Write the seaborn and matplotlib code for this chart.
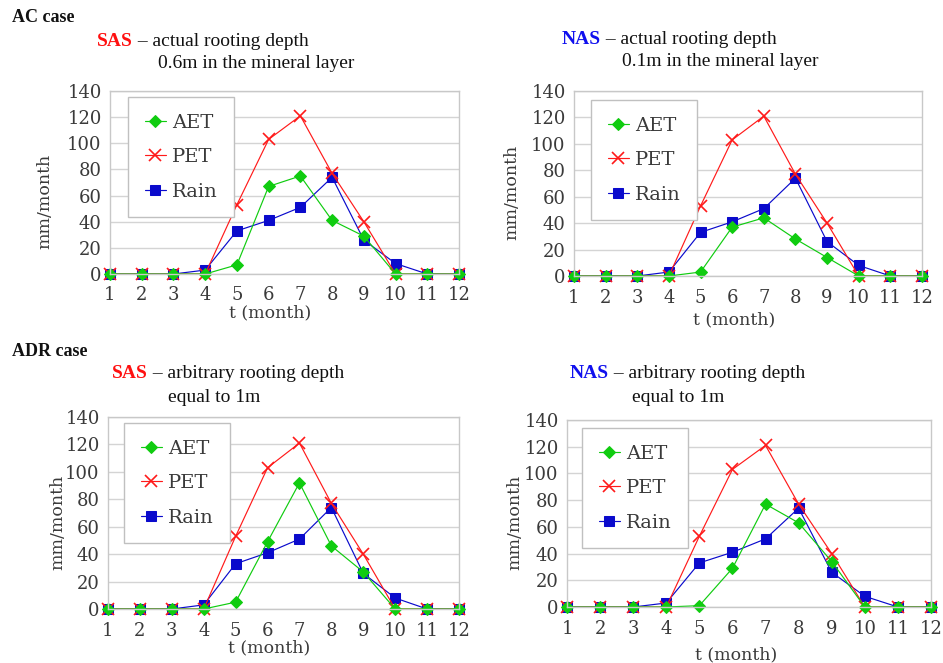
import matplotlib
matplotlib.use("Agg")
import matplotlib.pyplot as plt
import seaborn as sns
import pandas as pd

months = list(range(1, 13))
pet = [0, 0, 0, 0, 53, 103, 121, 77, 40, 0, 0, 0]
rain = [0, 0, 0, 3, 33, 41, 51, 74, 26, 8, 0, 0]
aet_ac_sas = [0, 0, 0, 0, 7, 67, 75, 41, 29, 0, 0, 0]
aet_ac_nas = [0, 0, 0, 0, 3, 37, 44, 28, 14, 0, 0, 0]
aet_adr_sas = [0, 0, 0, 0, 5, 49, 92, 46, 27, 0, 0, 0]
aet_adr_nas = [0, 0, 0, 0, 1, 29, 77, 63, 34, 0, 0, 0]
yticks = [0, 20, 40, 60, 80, 100, 120, 140]

sns.set_theme(style="white")
plt.rcParams['font.family'] = ['DejaVu Serif']

W, H = 943, 663
fig = plt.figure(figsize=(W / 100, H / 100), dpi=100)

GREEN = '#10cc10'
RED = '#ff1a1a'
BLUE = '#0a0acc'
TXT = '#3a3a3a'
SERIF = ['Liberation Serif', 'DejaVu Serif']
DSERIF = ['DejaVu Serif']

def px_axes(x0, y0, x1, y1):
    return fig.add_axes([x0 / W, 1 - y1 / H, (x1 - x0) / W, (y1 - y0) / H])

def panel(rect, aet, leg_xy, ylab_xy, xlab_xy):
    x0, y0, x1, y1 = rect
    ax = px_axes(*rect)
    df = pd.DataFrame({'t': months, 'AET': aet, 'PET': pet, 'Rain': rain})
    sns.lineplot(data=df, x='t', y='Rain', ax=ax, color=BLUE, marker='s',
                 markersize=7, markeredgecolor=BLUE, lw=0.85, label='Rain', clip_on=False)
    sns.lineplot(data=df, x='t', y='PET', ax=ax, color=RED, marker='x',
                 markersize=8, markeredgecolor=RED, markeredgewidth=1.2, lw=0.85,
                 label='PET', clip_on=False)
    sns.lineplot(data=df, x='t', y='AET', ax=ax, color=GREEN, marker='D',
                 markersize=6, markeredgecolor=GREEN, lw=0.85, label='AET', clip_on=False)
    ax.set_xlim(1, 12)
    ax.set_ylim(0, 140)
    ax.set_xticks(months)
    ax.set_yticks(yticks)
    ax.yaxis.grid(True, color='#d4d4d4', lw=1)
    ax.xaxis.grid(False)
    ax.set_axisbelow(True)
    for s in ax.spines.values():
        s.set_color('#c8c8c8')
        s.set_linewidth(1)
    ax.tick_params(axis='both', which='both', direction='out', length=5,
                   width=1, color='#c8c8c8', labelsize=13, labelcolor=TXT)
    ax.tick_params(axis='x', pad=4)
    ax.tick_params(axis='y', pad=1)
    for lab in ax.get_xticklabels() + ax.get_yticklabels():
        lab.set_fontfamily('DejaVu Serif')
    ax.set_xlabel('t (month)', fontsize=12.5, color=TXT, family=DSERIF)
    ax.set_ylabel('mm/month', fontsize=12.5, color=TXT, family=DSERIF)
    ax.yaxis.label.set_va('center')
    ax.xaxis.label.set_va('center')
    ax.yaxis.set_label_coords((ylab_xy[0] - x0) / (x1 - x0), (y1 - ylab_xy[1]) / (y1 - y0))
    ax.xaxis.set_label_coords((xlab_xy[0] - x0) / (x1 - x0), (y1 - xlab_xy[1]) / (y1 - y0))
    h, l = ax.get_legend_handles_labels()
    order = [l.index('AET'), l.index('PET'), l.index('Rain')]
    leg = ax.legend([h[i] for i in order], [l[i] for i in order],
                    loc='upper left', bbox_to_anchor=(leg_xy[0] / W, 1 - leg_xy[1] / H),
                    bbox_transform=fig.transFigure, frameon=True, fancybox=False,
                    edgecolor='#c0c0c0', framealpha=1,
                    prop={'family': DSERIF, 'size': 14}, labelspacing=0.85,
                    handlelength=1.1, handletextpad=0.3, borderpad=0.85,
                    borderaxespad=0)
    for t in leg.get_texts():
        t.set_color(TXT)
    leg.get_frame().set_linewidth(1)
    return ax

def title(x, y1, y2, x2, bold, color, rest, line2):
    t = fig.text(x / W, 1 - y1 / H, bold, color=color, fontsize=14,
                 fontweight='bold', family=SERIF, va='center', ha='left')
    fig.add_artist(plt.Annotation(' \u2013 ' + rest, xy=(1, 0.5), xycoords=t,
                                  va='center', ha='left', fontsize=14,
                                  family=SERIF, color='#111111'))
    fig.text(x2 / W, 1 - y2 / H, line2, fontsize=14, family=SERIF, color='#111111',
             va='center', ha='left')

fig.text(12 / W, 1 - 17 / H, 'AC case', fontsize=13, fontweight='bold',
         family=SERIF, va='center', ha='left', color='#111111')
fig.text(12 / W, 1 - 352 / H, 'ADR case', fontsize=13, fontweight='bold',
         family=SERIF, va='center', ha='left', color='#111111')

title(97, 42, 64, 158, 'SAS', '#ff1010', 'actual rooting depth', '0.6m in the mineral layer')
title(562, 40, 62, 622, 'NAS', '#1010ee', 'actual rooting depth', '0.1m in the mineral layer')
title(112, 374, 397, 168, 'SAS', '#ff1010', 'arbitrary rooting depth', 'equal to 1m')
title(570, 374, 397, 632, 'NAS', '#1010ee', 'arbitrary rooting depth', 'equal to 1m')

panel((110, 91, 459, 274), aet_ac_sas, (128, 97), (45, 201), (270, 313))
panel((574, 91, 922, 276), aet_ac_nas, (591, 100), (512, 192), (734, 320))
panel((108, 417, 459, 609), aet_adr_sas, (124, 423), (58, 522), (269, 648))
panel((567, 420, 931, 607), aet_adr_nas, (582, 428), (515, 522), (736, 655))

fig.savefig('out.png', dpi=100)
